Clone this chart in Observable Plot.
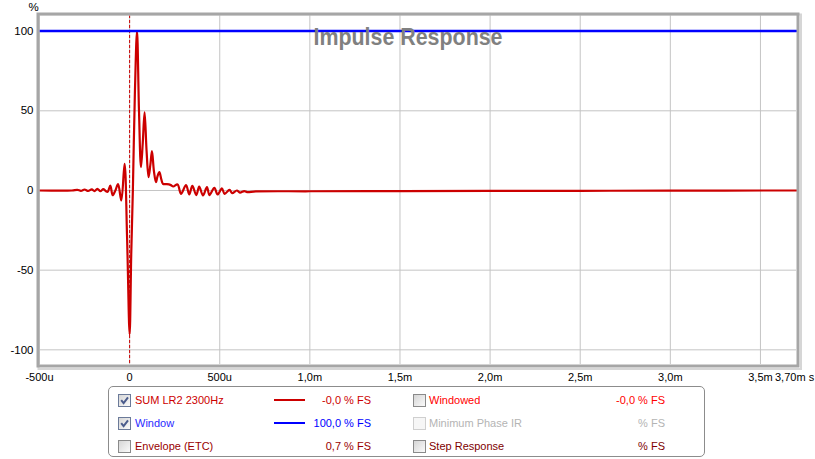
<!DOCTYPE html>
<html><head><meta charset="utf-8">
<script src="https://cdn.jsdelivr.net/npm/d3@7"></script>
<script src="https://cdn.jsdelivr.net/npm/@observablehq/plot@0.6"></script>
<style>
body{margin:0;background:#fff;font-family:"Liberation Sans",Arial,sans-serif;}
#wrap{position:relative;width:815px;height:459px;overflow:hidden;}
#legend{position:absolute;left:108px;top:386px;width:597px;height:71px;border:1px solid #8c8c8c;border-radius:5px;box-sizing:border-box;font-size:11px;}
.item{position:absolute;white-space:nowrap;line-height:14px;}
.cb{position:absolute;width:11px;height:11px;border:1px solid #8a8a8a;background:linear-gradient(135deg,#d6d6d6,#fafafa);}
.cb.on{border-color:#6b7a99;}
.cb.dis{border-color:#cfcfcf;background:#f6f6f6;}
.cb svg{position:absolute;left:0;top:0;}
.swatch{position:absolute;width:31px;height:2px;}
</style></head>
<body><div id="wrap"><div id="chart"></div><div id="legend"></div></div>
<script>
// Impulse response (time in ms, value in % FS)
const irTime  = [-0.5, -0.32, -0.29, -0.27, -0.25, -0.23, -0.21, -0.195, -0.179, -0.162, -0.146, -0.133, -0.122, -0.107, -0.094, -0.079, -0.064, -0.046, -0.028, -0.014, 0.000, 0.009, 0.018, 0.029, 0.041, 0.052, 0.063, 0.073, 0.083, 0.094, 0.105, 0.115, 0.124, 0.135, 0.146, 0.155, 0.165, 0.176, 0.185, 0.203, 0.226, 0.242, 0.266, 0.285, 0.313, 0.331, 0.348, 0.370, 0.386, 0.407, 0.429, 0.443, 0.470, 0.488, 0.512, 0.527, 0.554, 0.569, 0.595, 0.612, 0.636, 0.652, 0.70, 1.0, 1.5, 2.0, 2.5, 3.0, 3.7];
const irValue = [0, 0, 0.4, -0.2, 0.6, -0.3, 0.7, -0.4, 1.0, -0.5, 0.9, -0.3, -0.8, 3.0, -3.0, 0.0, 4.0, -6.3, 16.7, -30, -90.3, -40, 0, 60, 100, 50, 14.6, 30, 49, 25, 8.4, 16, 24.7, 12, 5.2, 9, 11.5, 7, 4.2, 4, 3.5, 2.5, 3.8, -2.1, 3.3, -2.5, 2.9, -2.9, 2.5, -3.1, 2.1, -2.9, 1.7, -2.5, 1.3, -2.1, 0.4, -1.7, 0.0, -1.3, -0.4, -1.0, -0.6, -0.5, -0.4, -0.3, -0.2, -0.1, 0];
// Window
const windowTime  = [-0.5, 3.7];
const windowValue = [100, 100];
// Axes
const xTicks = [-0.5, 0, 0.5, 1, 1.5, 2, 2.5, 3, 3.5];
const xTickLabels = ["-500u", "0", "500u", "1,0m", "1,5m", "2,0m", "2,5m", "3,0m", "3,5m"];
const xEndLabel = "3,70m s";
const yTicks = [-100, -50, 0, 50, 100];
const yTickLabels = ["-100", "-50", "0", "50", "100"];
const titleText = "Impulse Response";
const yUnit = "%";
// Legend
const legNames   = ["SUM LR2 2300Hz", "Window", "Envelope (ETC)", "Windowed", "Minimum Phase IR", "Step Response"];
const legValues  = ["-0,0 % FS", "100,0 % FS", "0,7 % FS", "-0,0 % FS", "% FS", "% FS"];
const legColors  = ["#cc0000", "#2a2aff", "#990000", "#ff0000", "#b4b4b4", "#800000"];
const legValColors = ["#cc0000", "#0000ff", "#990000", "#ff0000", "#b4b4b4", "#800000"];
const legChecked = [true, true, false, false, false, false];
const legDisabled = [false, false, false, false, true, false];
const legSwatch  = ["#cc0000", "#0000ff", null, null, null, null];

const ir = irTime.map((t, i) => ({t, v: irValue[i]}));
const win = windowTime.map((t, i) => ({t, v: windowValue[i]}));

const chart = Plot.plot({
  width: 815, height: 386,
  marginLeft: 39, marginRight: 19, marginTop: 15, marginBottom: 22,
  x: {domain: [-0.5, 3.7]},
  y: {domain: [-109.2, 109.8]},
  style: {fontFamily: "Liberation Sans, Arial, sans-serif", fontSize: "11px", color: "#000", background: "#fff"},
  marks: [
    Plot.gridX(xTicks, {stroke: "#c4c4c4", strokeOpacity: 1}),
    Plot.gridY(yTicks, {stroke: "#c4c4c4", strokeOpacity: 1}),
    Plot.axisX(xTicks, {tickSize: 0, tickPadding: 9, tickFormat: d => xTickLabels[xTicks.indexOf(d)], label: null}),
    Plot.axisY(yTicks, {tickSize: 0, tickPadding: 6, fontSize: 11.5, tickFormat: d => yTickLabels[yTicks.indexOf(d)], label: null}),
    Plot.text([xEndLabel], {x: 3.7, frameAnchor: "bottom", textAnchor: "start", lineAnchor: "top", dx: -21.5, dy: 9, fill: "#000"}),
    Plot.text([yUnit], {frameAnchor: "top-left", dx: -11, dy: -13, fill: "#000", fontSize: 11.5}),
    Plot.line(ir, {x: "t", y: "v", stroke: "#cc0000", strokeWidth: 2.2, curve: "catmull-rom"}),
    Plot.ruleX([0], {stroke: "#cc0000", strokeWidth: 1, strokeDasharray: "3,2"}),
    Plot.line(win, {x: "t", y: "v", stroke: "#0000ff", strokeWidth: 2.5}),
    Plot.text([titleText], {frameAnchor: "top", dx: -10, dy: 12.3, fontSize: 24, fontWeight: "bold", fill: "#808080", className: "ttl"}),
    Plot.frame({stroke: "#d6d6d6", strokeWidth: 2, insetTop: -1, insetLeft: -1, insetRight: -4.5, insetBottom: -4.5}),
    Plot.frame({stroke: "#a6a6a6", strokeWidth: 3, inset: -1.5})
  ]
});
document.getElementById("chart").appendChild(chart);
chart.querySelectorAll(".ttl text").forEach(t => {
  t.setAttribute("textLength", "189");
  t.setAttribute("lengthAdjust", "spacingAndGlyphs");
});

const leg = document.getElementById("legend");
const rowY = [13, 36, 59];
legNames.forEach((name, i) => {
  const col = Math.floor(i / 3), row = i % 3;
  const cbX = col === 0 ? 9 : 304;
  const txX = col === 0 ? 26 : 320;
  const valR = col === 0 ? 264 : 558;
  const y = rowY[row];
  const cb = document.createElement("span");
  cb.className = "cb" + (legChecked[i] ? " on" : "") + (legDisabled[i] ? " dis" : "");
  cb.style.left = cbX + "px"; cb.style.top = (y - 6) + "px";
  if (legChecked[i]) cb.innerHTML = '<svg width="11" height="11"><path d="M2.2 5.2 L4.6 8.2 L9 2.4" stroke="#4b5c8c" stroke-width="2" fill="none"/></svg>';
  leg.appendChild(cb);
  const tx = document.createElement("span");
  tx.className = "item"; tx.textContent = name; tx.style.color = legColors[i];
  tx.style.left = txX + "px"; tx.style.top = (y - 7) + "px";
  leg.appendChild(tx);
  const vl = document.createElement("span");
  vl.className = "item"; vl.textContent = legValues[i]; vl.style.color = legValColors[i];
  vl.style.right = (597 - valR) + "px"; vl.style.top = (y - 7) + "px";
  leg.appendChild(vl);
  if (legSwatch[i]) {
    const sw = document.createElement("span");
    sw.className = "swatch"; sw.style.background = legSwatch[i];
    sw.style.left = "165px"; sw.style.top = (y - 1) + "px";
    leg.appendChild(sw);
  }
});
</script></body></html>
